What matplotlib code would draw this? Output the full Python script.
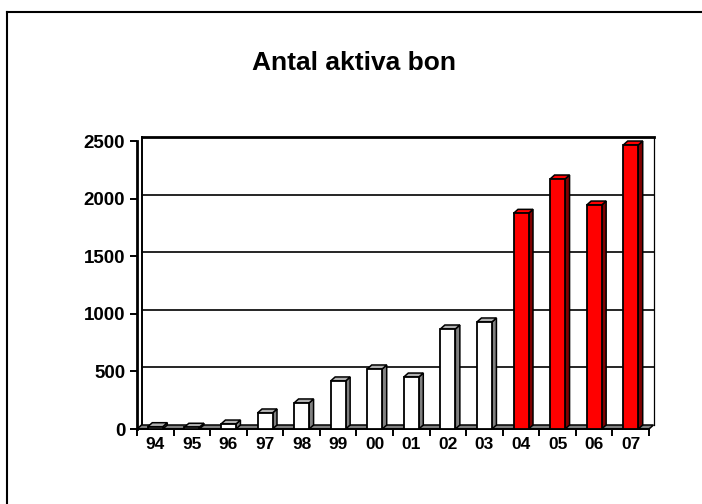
import numpy as np
import matplotlib
matplotlib.use('Agg')
import matplotlib.pyplot as plt
from matplotlib.patches import Polygon
from matplotlib.lines import Line2D

plt.rcParams['font.family'] = ['Liberation Sans', 'DejaVu Sans']
plt.rcParams['font.weight'] = 'bold'

# Data
years = ['94', '95', '96', '97', '98', '99', '00', '01', '02', '03', '04', '05', '06', '07']
values = [20, 15, 43, 139, 226, 417, 521, 451, 868, 929, 1872, 2170, 1944, 2465]
highlight = [False] * 10 + [True] * 4
y_ticks = [0, 500, 1000, 1500, 2000, 2500]

W, H = 702, 504
fig = plt.figure(figsize=(W / 100, H / 100), dpi=100)

# front plane of the 3D box in pixels
x0, x1 = 137, 649
y_zero, y_top = 429, 141
ax = fig.add_axes([x0 / W, 1 - y_zero / H, (x1 - x0) / W, (y_zero - y_top) / H])
n = len(years)
ax.set_xlim(0, n)
ax.set_ylim(0, 2500)

ux = (x1 - x0) / n
uy = (y_zero - y_top) / 2500
dx = 4.5 / ux
dy = 4 / uy

# spines / ticks
for s in ['top', 'right']:
    ax.spines[s].set_visible(False)
ax.spines['left'].set_linewidth(2.0)
ax.spines['bottom'].set_linewidth(1.4)
ax.set_yticks(y_ticks)
ax.set_yticklabels([str(v) for v in y_ticks], fontsize=13.5, fontweight='bold')
ax.tick_params(axis='y', length=5, width=1.4, pad=3.5)
ax.set_xticks(np.arange(n + 1))
ax.set_xticklabels([])
ax.set_xticks(np.arange(n) + 0.5, minor=True)
ax.set_xticklabels(years, minor=True, fontsize=12.5, fontweight='bold')
ax.tick_params(axis='x', which='major', length=5, width=1.4)
ax.tick_params(axis='x', which='minor', length=0, pad=6)

# back wall and gridlines
for v in y_ticks[1:]:
    lw = 2.0 if v == 2500 else 1.2
    ax.plot([dx, n + dx], [v + dy, v + dy], color='black', lw=lw, clip_on=False, zorder=1)
ax.plot([dx, dx], [dy, 2500 + dy], color='black', lw=1.4, clip_on=False, zorder=1)
ax.plot([n + dx, n + dx], [dy, 2500 + dy], color='black', lw=0.9, clip_on=False, zorder=1)

# floor
floor = Polygon([(0, 0), (n, 0), (n + dx, dy), (dx, dy)], closed=True,
                facecolor='#808080', edgecolor='black', lw=1.1, clip_on=False, zorder=2)
ax.add_patch(floor)

# bars with side and top faces
bw = 15 / ux
for i, (v, hl) in enumerate(zip(values, highlight)):
    xc = i + 0.5
    front_c = '#ff0000' if hl else 'white'
    side_c = '#800000' if hl else '#808080'
    top_c = '#ff0000' if hl else '#b0b0b0'
    l, r = xc - bw / 2, xc + bw / 2
    side = Polygon([(r, 0), (r + dx, dy), (r + dx, v + dy), (r, v)], closed=True,
                   facecolor=side_c, edgecolor='black', lw=1.1, clip_on=False, zorder=3)
    top = Polygon([(l, v), (l + dx, v + dy), (r + dx, v + dy), (r, v)], closed=True,
                  facecolor=top_c, edgecolor='black', lw=1.1, clip_on=False, zorder=3)
    ax.add_patch(side)
    ax.add_patch(top)
    ax.bar(xc, v, width=bw, color=front_c, edgecolor='black', lw=1.3, zorder=4, clip_on=False)

# title
fig.text(354 / W, 1 - 70 / H, 'Antal aktiva bon', ha='center', va='baseline',
         fontsize=19, fontweight='bold')

# outer border (left and top visible)
fig.add_artist(Line2D([7 / W, 7 / W], [0, 1 - 12 / H], color='black', lw=1.5,
                      transform=fig.transFigure))
fig.add_artist(Line2D([7 / W, 1], [1 - 12 / H, 1 - 12 / H], color='black', lw=1.5,
                      transform=fig.transFigure))

fig.savefig('out.png', dpi=100)
